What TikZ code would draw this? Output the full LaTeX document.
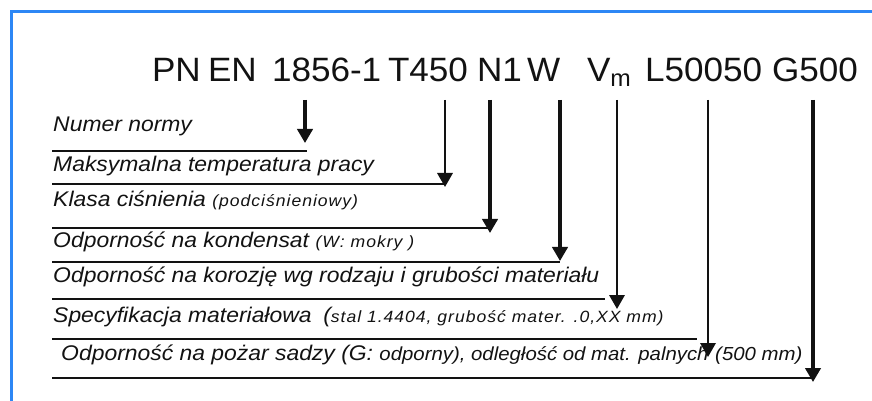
\documentclass[tikz,border=0pt]{standalone}
\usepackage{fontspec}
\setmainfont{Liberation Sans}
\newfontfamily\codefont[FakeStretch=1.04]{Liberation Sans}
\newfontfamily\notefont[FakeStretch=1.08]{Liberation Sans}
\newfontfamily\asidefont[FakeStretch=1.08,LetterSpace=6]{Liberation Sans}
\usepackage{xcolor}
\usepackage{tikz}
\usetikzlibrary{arrows.meta}
\definecolor{ink}{RGB}{18,18,18}
\definecolor{frameblue}{RGB}{45,135,245}
\newcommand{\subnote}[1]{{\asidefont\itshape\fontsize{13.9}{15}\selectfont #1}}
\newcommand{\midnote}[1]{{\notefont\itshape\fontsize{16.1}{17}\selectfont #1}}
\tikzset{
  pointer/.style={line width=2pt,ink,-{Triangle[length=4.2mm,width=4.6mm]}},
  heavy/.style={line width=2.7pt},
  rule/.style={line width=1.6pt,ink},
  outline/.style={line width=2.4pt,frameblue},
  code/.style={font=\codefont\fontsize{28.8}{30}\selectfont,text=ink,inner sep=0pt,
    outer xsep=0pt,outer ysep=0.54cm,text depth=0pt,anchor=base west},
  note/.style={font=\notefont\itshape\fontsize{18.1}{20}\selectfont,text=ink,
    inner sep=0pt,anchor=base west}
}

\begin{document}
\begin{tikzpicture}[x=0.03cm,y=-0.03cm]
  \useasboundingbox (0,0) rectangle (872,401);
  \draw[outline] (11.5,430) |- (900,11.5);
  % designation
  \node[code] (pn) at (152,82) {PN};
  \node[code] (en) at (208,82) {EN};
  \node[code] (std) at (272,82) {1856-1};
  \node[code] (temp) at (388,82) {T450};
  \node[code] (pres) at (477,82) {N1};
  \node[code] (cond) at (527,82) {W};
  \node[code] (corr) at (587,82) {V\textsubscript{m}};
  \node[code] (mat) at (645,82) {L50050};
  \node[code] (soot) at (772,82) {G500};
  % explanations
  \node[note] (l1) at (53,132) {Numer normy};
  \node[note] (l2) at (53,172) {Maksymalna temperatura pracy};
  \node[note] (l3) at (53,207) {Klasa ciśnienia \subnote{(podciśnieniowy)}};
  \node[note] (l4) at (53,247) {Odporność na kondensat \subnote{(W: mokry )}};
  \node[note] (l5) at (53,282) {Odporność na korozję wg rodzaju i grubości materiału};
  \node[note] (l6) at (53,322) {Specyfikacja materiałowa\hspace{0.35cm}(\subnote{stal 1.4404, grubość mater. .0,XX mm)}};
  \node[note] (l7) at (61,360) {Odporność na pożar sadzy (G: \midnote{odporny), odległość od mat. palnych\hspace{0.2cm}(500 mm)}};
  \draw[rule] (52,151) -- (307,151);
  \draw[rule] (52,184) -- (445,184);
  \draw[rule] (52,228) -- (490,228);
  \draw[rule] (52,262) -- (560,262);
  \draw[rule] (52,299) -- (605,299);
  \draw[rule] (52,339) -- (697,339);
  \draw[rule] (52,378) -- (813,378);
  \coordinate (t1) at (305,143);
  \coordinate (t2) at (445,187);
  \coordinate (t3) at (490,233);
  \coordinate (t4) at (560,261);
  \coordinate (t5) at (617,309);
  \coordinate (t6) at (708,357);
  \coordinate (t7) at (813,382);
  \draw[pointer,heavy] (std.south -| t1) -- (t1);
  \draw[pointer] (temp.south -| t2) -- (t2);
  \draw[pointer,heavy] (pres.south -| t3) -- (t3);
  \draw[pointer,heavy] (cond.south -| t4) -- (t4);
  \draw[pointer] (corr.south -| t5) -- (t5);
  \draw[pointer] (mat.south -| t6) -- (t6);
  \draw[pointer,heavy] (soot.south -| t7) -- (t7);
\end{tikzpicture}
\end{document}
